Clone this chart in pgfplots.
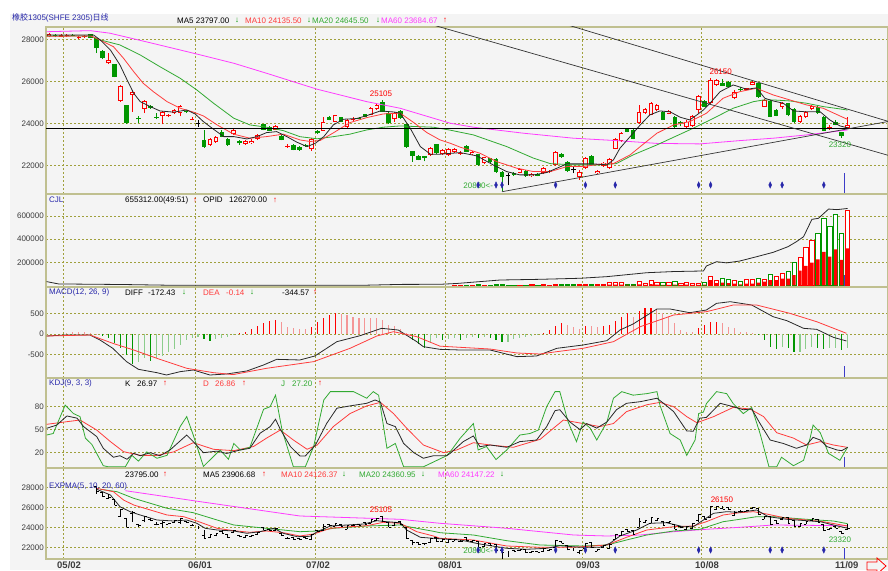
\documentclass[border=0pt]{standalone}
\usepackage{fontspec}
\setmainfont{Liberation Sans}
\newfontfamily\cjk{Noto Sans CJK SC}
\usepackage{pgfplots}
\pgfplotsset{compat=1.18}
\usepackage{pgfplotstable}
\definecolor{bg}{RGB}{244,244,244}
\definecolor{brd}{RGB}{192,192,144}
\definecolor{grd}{RGB}{160,160,60}
\definecolor{tk}{RGB}{60,60,60}
\definecolor{cR}{RGB}{255,0,0}
\definecolor{cRl}{RGB}{244,150,150}
\definecolor{cG}{RGB}{0,150,0}
\definecolor{cGl}{RGB}{140,205,140}
\definecolor{mR}{RGB}{255,60,60}
\definecolor{mG}{RGB}{50,170,50}
\definecolor{mM}{RGB}{255,60,255}
\definecolor{mK}{RGB}{40,40,40}
\definecolor{lb}{RGB}{40,40,170}
\definecolor{mk}{RGB}{60,60,200}
\newcommand\hf{\fontsize{8}{9.6}\selectfont}
\pgfplotsset{
  panel/.style={
    scale only axis, width=842pt, xmin=-8.51, xmax=132.77, anchor=south west,
    axis line style={draw=brd, line width=1.4pt},
    xtick={-5.6,16.5,36.6,58.5,81.5,101.5}, xticklabels={{},{},{},{},{},{}},
    xmajorgrids, ymajorgrids,
    major grid style={draw=grd, line width=0.7pt, dash pattern=on 2pt off 2pt},
    major tick length=0pt, tick style={draw=none},
    yticklabel style={font=\hf, text=tk, inner sep=0pt, xshift=-2pt},
    scaled y ticks=false,
  },
  cdl/.style 2 args={draw=none, mark=none, forget plot, error bars/y dir=plus, error bars/y explicit,
    error bars/error mark=none, error bars/error bar style={draw=#1, line width=#2}},
  xtk/.style 2 args={draw=none, mark=none, forget plot, error bars/x dir=#1, error bars/x explicit,
    error bars/error mark=none, error bars/error bar style={draw=#2, line width=0.7pt}},
}
\pgfplotstableread{
k o h l c
-8 28150 28300 28100 28250
-6 28130 28260 28100 28220
-5 28150 28240 28120 28210
-3 28050 28150 28000 28110
-2 28100 28200 28080 28160
2 26870 27345 26850 27030
4 25080 25850 25050 25806
6 25363 25600 24570 25492
8 24699 25110 24495 25093
11 24366 24580 23970 24542
12 24340 24450 24300 24390
13 24494 24700 24450 24650
14 24494 24900 24350 24855
16 24190 24300 24150 24240
19 22989 23330 22950 23288
20 23146 23420 23100 23383
23 23497 23740 23450 23701
25 23036 23230 23000 23193
26 23080 23250 23050 23180
27 23259 23500 23220 23464
30 23701 23950 23680 23891
32 22880 23050 22860 22930
36 22800 23300 22720 23273
38 23668 24300 23650 24096
40 24100 24420 24080 24400
42 23830 24200 23800 24176
43 24160 24300 24140 24240
46 24414 24780 24400 24760
47 24685 24950 24660 24890
50 24200 24550 24100 24500
56 22514 22900 22450 22860
58 22560 22800 22500 22750
59 22514 22850 22450 22800
60 22640 22850 22600 22800
61 22560 22680 22530 22620
63 22547 22700 22500 22670
65 22120 22430 22080 22405
71 21673 21870 21640 21835
73 21500 21650 21460 21600
75 21640 21920 21600 21880
76 21710 21800 21650 21770
77 22040 22700 22000 22670
81 21455 21780 21330 21720
82 21880 22420 21850 22385
84 21645 21800 21620 21754
85 21990 22180 21960 22150
86 21880 22350 21850 22324
87 22800 23300 22780 23273
88 23193 23580 23150 23545
91 24020 24889 24000 24570
92 24494 24750 24470 24700
93 24414 25050 24400 24970
94 24650 24950 24620 24900
96 24461 24650 24440 24604
99 23830 24150 23800 24100
100 23891 24400 23850 24366
101 24651 25350 24500 25316
103 24970 26150 24950 26076
104 25839 26100 25800 26076
107 25207 25600 25150 25520
109 25620 25700 25580 25670
110 25850 26050 25820 26000
112 24808 25150 24780 25126
115 24800 25050 24700 25000
118 24096 24400 24050 24366
119 24305 24620 24280 24570
120 24700 24900 24650 24858
123 23750 23950 23720 23860
126 23780 24305 23760 23940
}\upc
\pgfplotstableread{
k o h l c
-7 28200 28250 28100 28150
-4 28230 28260 28150 28180
-1 28250 28280 28050 28085
0 28050 28080 27350 27580
1 27470 27500 27050 27110
3 26836 26850 26200 26233
5 24889 24900 24000 24020
7 24260 24366 24020 24200
9 24841 24900 24700 24732
10 24330 24500 24200 24280
15 24620 24650 24500 24540
18 23226 23701 22850 22880
21 23620 23700 23350 23383
22 23259 23300 22950 22989
24 23160 23200 23000 23060
28 23972 24000 23680 23701
29 23830 23870 23650 23668
31 23416 23450 23200 23226
33 22989 23020 22730 22750
34 22900 22940 22720 22750
35 22990 23010 22900 22920
37 23650 23700 23500 23560
39 24305 24350 24150 24176
41 24300 24330 24080 24100
44 24290 24320 24200 24220
45 24460 24480 24300 24330
48 25045 25105 24550 24570
49 24523 24560 24000 24020
51 24600 24650 24230 24256
52 23986 24000 22850 22880
53 22704 22720 22196 22480
54 22480 22500 22250 22276
55 22440 22470 22200 22360
57 23022 23050 22560 22600
62 22955 22990 22640 22670
64 22547 22580 22000 22040
66 22357 22380 22140 22167
67 22324 22350 21650 21692
68 21720 21750 20800 21455
70 21650 21700 21520 21560
72 21750 21780 21470 21500
74 21600 21640 21490 21520
78 22547 22600 22380 22405
79 22167 22200 21700 21754
83 22480 22510 22000 22040
89 23750 23800 23580 23600
90 23700 23750 23250 23270
95 24570 24600 24150 24176
97 24334 24360 23800 23830
98 24096 24120 23880 24040
102 25079 25100 24780 24808
105 25920 26100 25780 25800
106 25967 26050 25730 25758
108 25640 25760 25560 25590
111 25920 25950 25230 25255
113 25079 25100 24300 24333
114 24650 24700 24340 24370
116 24970 25000 24350 24414
117 24700 24730 24050 24096
121 24800 24830 24450 24500
122 24334 24360 23640 23668
124 24096 24150 23920 23939
125 23590 23620 23320 23432
}\dnc
\pgfplotstableread{
k o h l c
17 24000 24150 23850 24040
69 21500 21650 21060 21540
80 21780 21950 21650 21820
}\djc
\begin{document}
\begin{tikzpicture}
\path[use as bounding box] (0pt,0pt) rectangle (888pt,570pt);
\fill[bg] (10pt,0pt) rectangle (888pt,556pt);
% ================= PANEL 1: candles =================
\begin{axis}[panel, at={(46pt,376pt)}, height=167pt, ymin=20655, ymax=28594,
  ytick={22000,24000,26000,28000}, yticklabels={22000,24000,26000,28000}]
\addplot[cdl={cR}{0.9pt}] table[x=k, y=l, y error expr=\thisrow{h}-\thisrow{l}] {\upc};
\addplot[cdl={cG}{0.9pt}] table[x=k, y=l, y error expr=\thisrow{h}-\thisrow{l}] {\dnc};
\addplot[cdl={black}{0.9pt}] table[x=k, y=l, y error expr=\thisrow{h}-\thisrow{l}] {\djc};
\addplot[cdl={cR}{4.6pt}] table[x=k, y=o, y error expr={max(\thisrow{c}-\thisrow{o},45)}] {\upc};
\addplot[cdl={bg}{2.8pt}] table[x=k, y expr=\thisrow{o}+45, y error expr={max(\thisrow{c}-\thisrow{o}-90,0)}] {\upc};
\addplot[cdl={cG}{4.6pt}] table[x=k, y=c, y error expr={max(\thisrow{o}-\thisrow{c},45)}] {\dnc};
\addplot[cdl={black}{4.6pt}] table[x=k, y=o, y error expr={45}] {\djc};
% MA60
\addplot[mM, line width=0.8pt] coordinates {(-8.4,28370) (-1.1,28420) (2.2,28300) (8.9,27850) (16.2,27350) (23.0,26870) (28.5,26394) (37.0,25634) (45.3,25045) (50.9,24732) (56.5,24257) (59.3,24020) (63.2,23830) (71.6,23545) (80.0,23307) (87.2,23193) (94.0,23060) (101.2,23036) (107.9,23193) (113.5,23307) (119.1,23464) (126,23700)};
% MA20
\addplot[mG, line width=0.8pt] coordinates {(-8.4,28160) (-1,28170) (0.6,27980) (3.9,27740) (7.3,27264) (10.6,26708) (14.0,26157) (16.8,25600) (19.6,24970) (23.0,24257) (25.7,23939) (28.5,23830) (31.3,23668) (34.1,23380) (37.0,23280) (39.7,23380) (42.5,23500) (45.3,23700) (48.1,23830) (50.9,23890) (53.7,23860) (56.5,23830) (59.3,23690) (63.2,23464) (68.8,22908) (73.3,22357) (76.1,22100) (80.0,22040) (84.4,22040) (87.2,22100) (90.0,22514) (94.0,22989) (96.8,23354) (100.1,23782) (103.5,24257) (106.8,24732) (110.2,25045) (111.9,25126) (113.5,25126) (116.3,25079) (119.1,24970) (121.9,24810) (124.7,24700) (126,24645)};
% MA10
\addplot[mR, line width=0.8pt] coordinates {(-8.4,28150) (-1,28170) (0.5,27980) (2.8,27660) (4.5,27107) (6.2,26472) (7.8,25920) (9.5,25520) (11.8,25045) (14.0,24732) (16.2,24550) (17.9,24366) (20.2,23939) (23.0,23497) (25.7,23307) (28.5,23383) (31.3,23500) (34.1,23226) (35.8,23150) (37.5,23200) (39.7,23560) (42.5,24050) (45.3,24286) (48.1,24461) (50.9,24500) (53.2,24050) (55.4,23573) (57.6,23226) (59.3,23069) (61.0,22880) (64.3,22595) (67.1,22196) (70.5,21880) (73.3,21720) (76.1,21720) (78.9,21958) (81.6,21958) (84.4,22070) (86.7,22100) (89.5,22514) (91.2,22908) (94.0,23545) (96.8,23939) (99.5,24096) (102.3,24494) (105.1,25207) (107.9,25520) (110.7,25680) (113.5,25364) (116.3,25126) (119.1,24889) (121.9,24730) (124.7,24366) (126,24200)};
% MA5
\addplot[mK, line width=0.8pt] coordinates {(-8.4,28210) (-0.5,28210) (0.6,27976) (2.3,27500) (3.9,26790) (5.1,26076) (6.2,25444) (7.3,25045) (9.0,24808) (10.6,24604) (12.9,24546) (15.1,24650) (16.5,24461) (17.9,24096) (19.6,23734) (21.3,23383) (23.0,23383) (25.2,23273) (26.9,23383) (28.5,23573) (30.2,23620) (31.9,23383) (33.6,23116) (35.3,22908) (36.7,23069) (38.1,23383) (39.7,23939) (41.4,24209) (43.6,24241) (45.3,24380) (47.6,24604) (49.8,24554) (50.9,24500) (52.6,23782) (54.3,22908) (56.0,22547) (57.6,22547) (61.0,22623) (63.8,22466) (66.5,22040) (68.8,21720) (71.0,21563) (73.3,21563) (75.5,21674) (77.2,21880) (78.9,22086) (81.1,22086) (83.3,22086) (85.6,22040) (86.7,22276) (87.8,22832) (89.5,23383) (91.2,23939) (92.8,24414) (94.5,24604) (96.2,24560) (97.9,24304) (99.5,24176) (100.7,24414) (101.8,24651) (102.9,24970) (104.6,25520) (106.8,25839) (109.1,25633) (110.7,25700) (112.1,25207) (113.5,25079) (115.2,24970) (116.9,24604) (119.1,24560) (121.4,24560) (123.0,24176) (124.7,23891) (126,23800)};
% trend lines
\addplot[black, line width=0.7pt] coordinates {(-9,23790) (134,23790)};
\addplot[black!80, line width=0.7pt] coordinates {(55,28805) (133,22477)};
\addplot[black!80, line width=0.7pt] coordinates {(78,28778) (133,24091)};
\addplot[black!80, line width=0.7pt] coordinates {(68.0,20764) (133,24112)};
% signals
\addplot[only marks, mark=diamond*, mark size=3.2pt, mark options={fill=lb, draw=lb, xscale=0.6}] coordinates {(64,21083) (67,21083) (68,21083) (77,21083) (82,21083) (87,21083) (101,21083) (103,21083) (113,21083) (115,21083) (122,21083)};
\addplot[mk, line width=1pt] coordinates {(125.4,20655) (125.4,21653)};
\node[text=cR, font=\hf] at (axis cs:47.7,25442) {25105};
\node[text=cR, font=\hf] at (axis cs:104.7,26469) {26150};
\node[text=mG, font=\hf, anchor=west, inner sep=0pt] at (axis cs:61.5,21035) {20800<-};
\node[text=mG, font=\hf] at (axis cs:124.7,23018) {23320};
\end{axis}
% ================= PANEL 2: volume =================
\begin{axis}[panel, at={(46pt,283pt)}, height=93pt, ymin=-13400, ymax=790000,
  ytick={200000,400000,600000}, yticklabels={200000,400000,600000}]
\addplot[ybar, bar width=4.2pt, bar shift=0pt, draw=cR, fill=white, line width=0.7pt] coordinates {(60,4000) (61,3000) (63,3000) (65,4000) (71,4000) (73,6000) (75,8000) (76,5000) (77,12000) (81,7000) (82,12000) (84,6000) (85,9000) (86,24000) (87,24000) (88,24000) (91,33000) (92,20000) (93,47000) (94,27000) (96,24000) (98,15000) (99,27000) (100,20000) (101,20000) (103,76000) (104,40000) (107,45000) (109,50000) (110,50000) (112,53000) (114,76000) (115,105000) (118,243000) (119,329000) (120,392000) (126,645000)};
\addplot[ybar, bar width=4.2pt, bar shift=0pt, draw=cG, fill=white, line width=0.7pt] coordinates {(62,5000) (64,6000) (66,3000) (67,8000) (68,9000) (69,5000) (70,4000) (72,5000) (74,4000) (78,7000) (79,9000) (80,6000) (83,10000) (89,12000) (90,9000) (95,24000) (97,33000) (102,30000) (105,62000) (106,56000) (108,33000) (111,62000) (113,96000) (116,119000) (117,197000) (121,450000) (122,579000) (123,507000) (124,616000) (125,450000)};
\addplot[ybar, bar width=3.4pt, bar shift=0pt, draw=none, fill=cR] coordinates {(86,8000) (87,8000) (88,8000) (89,4000) (90,3000) (91,10000) (92,6000) (93,12000) (94,8000) (95,6000) (96,6000) (97,8000) (98,5000) (99,8000) (100,5000) (101,6000) (102,8000) (103,45000) (104,20000) (105,25000) (106,20000) (107,15000) (108,10000) (109,15000) (110,15000) (111,25000) (112,33000) (113,45000) (114,45000) (115,60000) (116,60000) (117,90000) (118,128000) (119,168000) (120,197000) (121,226000) (122,291000) (123,248000) (124,312000) (125,220000) (126,321000)};
\addplot[mK, line width=0.8pt] coordinates {(-8.4,33000) (-6.4,13000) (4.5,8000) (12,2000) (45,2000) (51,9000) (57.6,10000) (60.4,17000) (67.7,47000) (74.4,53000) (81.1,62000) (85.6,76000) (92.3,110000) (96.8,120000) (101.8,125000) (102.3,168000) (104.0,205000) (105.7,195000) (107.9,211000) (110.7,248000) (113.5,286000) (116.0,335000) (117.4,378000) (118.6,421000) (120.0,571000) (121.1,580000) (122.8,660000) (124.2,655000) (126,665000)};
\addplot[mk, line width=1pt] coordinates {(125.4,-13400) (125.4,90300)};
\end{axis}
% ================= PANEL 3: MACD =================
\begin{axis}[panel, at={(46pt,192pt)}, height=91pt, ymin=-1084, ymax=1158,
  ytick={-500,0,500}, yticklabels={-500,0,500}]
\addplot[ycomb, cRl, line width=1.1pt] coordinates {(-5,30) (-4,45) (-3,50) (-2,40) (-1,30) (0,10) (31,287) (32,180) (33,140) (34,115) (35,115) (41,490) (42,468) (43,427) (44,402) (45,402) (46,386) (47,386) (48,345) (49,222) (50,205) (51,115) (52,16) (79,222) (80,180) (81,115) (83,197) (84,180) (90,427) (94,607) (95,525) (96,427) (97,263) (98,98) (99,57) (100,57) (105,263) (106,180) (107,140) (108,57) (109,41) (110,16)};
\addplot[ycomb, cR, line width=1.1pt] coordinates {(24,33) (25,57) (26,115) (27,205) (28,279) (29,328) (30,345) (36,180) (37,304) (38,386) (39,468) (40,509) (75,33) (76,98) (77,205) (78,279) (82,197) (85,197) (86,222) (87,328) (88,427) (89,509) (91,566) (92,648) (93,648) (101,140) (102,222) (103,304) (104,304)};
\addplot[ycomb, cGl, line width=1.1pt] coordinates {(7,-681) (8,-600) (10,-600) (11,-542) (12,-452) (13,-370) (14,-271) (15,-148) (16,-107) (17,-82) (20,-131) (21,-107) (22,-66) (23,-25) (56,-230) (57,-107) (59,-130) (60,-107) (62,-107) (63,-82) (65,-66) (69,-189) (70,-131) (71,-107) (72,-66) (73,-49) (74,-25) (115,-312) (118,-435) (119,-378) (120,-312) (123,-353) (124,-353) (126,-345)};
\addplot[ycomb, cG, line width=1.1pt] coordinates {(1,-40) (2,-107) (3,-230) (4,-353) (5,-517) (6,-739) (9,-657) (18,-131) (19,-172) (53,-148) (54,-246) (55,-337) (58,-148) (61,-148) (64,-107) (66,-107) (67,-148) (68,-189) (111,-25) (112,-148) (113,-312) (114,-378) (116,-353) (117,-435) (121,-353) (122,-378) (125,-394)};
% DIFF
\addplot[mK, line width=0.8pt] coordinates {(-8.4,-49) (-5.3,-25) (-1.1,-25) (0.55,-148) (2.7,-353) (5.0,-681) (7.0,-870) (10.1,-953) (11.7,-1010) (14.0,-928) (16.2,-887) (19.0,-1010) (21.8,-985) (25.2,-911) (28.0,-763) (30.2,-624) (34.1,-640) (36.6,-542) (40.3,-189) (44.2,-41) (47.8,140) (50.6,98) (53.7,-189) (54.8,-312) (57.6,-378) (61,-394) (66.0,-394) (70.5,-558) (73.8,-542) (77.2,-353) (81.6,-271) (85.6,-164) (87.8,98) (90.0,246) (94.0,616) (96.2,616) (99.5,525) (102.3,591) (104.0,755) (106.3,796) (109.9,714) (113.5,426) (115.8,328) (118.6,140) (120.8,115) (123.6,-82) (125.8,-172)};
% DEA
\addplot[mR, line width=0.8pt] coordinates {(-8.4,-49) (-1.1,-25) (2.7,-230) (6.2,-394) (10.1,-599) (15.1,-845) (19.6,-953) (22.9,-1000) (28.5,-845) (36.4,-681) (42.5,-353) (47.0,-49) (49.8,57) (53.7,-66) (57.6,-300) (66.0,-370) (70.5,-468) (74.4,-493) (77.2,-435) (81.6,-353) (86.7,-189) (91.2,180) (96.8,468) (102.3,550) (106.8,714) (110.7,714) (116.3,509) (120.8,303) (125.8,17)};
\addplot[mk, line width=1pt] coordinates {(125.4,-1084) (125.4,-788)};
\end{axis}
% ================= PANEL 4: KDJ =================
\begin{axis}[panel, at={(46pt,102pt)}, height=90pt, ymin=0, ymax=117.4,
  ytick={20,50,80}, yticklabels={20,50,80}]
\addplot[mR, line width=0.8pt] coordinates {(-8.4,57) (-5.0,60.4) (-2.8,62.6) (0,49.5) (2.3,34.4) (4.5,21.3) (7.3,16.5) (10.1,16.5) (12.9,21) (16.2,33) (19.6,24.4) (23.0,22.6) (26.3,28) (28.5,39) (30.8,49.5) (33.0,36.5) (35.3,24.4) (37.0,30) (39.7,54) (42.5,71) (45.3,81) (47.6,85.6) (49.8,71) (52.0,52) (54.8,30) (58.2,20) (60.4,23.5) (63.2,33) (66.0,30) (69.9,27) (74.4,37.4) (78.3,62.6) (81.6,58) (84.4,54) (86.7,58) (88.9,73.6) (92.3,82.5) (94.5,85.6) (96.8,80) (99.0,67) (100.7,59) (103.5,67) (106.8,79) (109.6,77) (111.9,67) (114.1,46) (116.9,39) (119.1,30) (121.4,34.4) (123.6,30) (126,26.86)};
\addplot[mG, line width=0.8pt] coordinates {(-8.4,43) (-7.3,45) (-5.3,82) (-3.9,71) (-2.8,67) (-1.9,39) (-0.8,30.5) (1.1,3) (2.0,1.5) (4.8,1.5) (5.9,16.5) (7.0,9) (8.4,21) (10.1,12.7) (11.8,16.5) (14.0,54) (15.1,67) (16.2,43) (17.9,2) (20.7,23.5) (22.1,11.4) (23.0,32) (24.1,23.5) (25.7,27) (28.0,76.6) (29.1,80) (30.0,95) (31.1,49.5) (33.0,1.5) (35.0,1.5) (36.4,28) (38.1,88.7) (39.2,99.6) (43.1,99.6) (45.3,91) (46.4,99.6) (47.3,95) (48.7,25.7) (50.1,32) (51.5,1.5) (54.8,1.5) (58.7,16) (59.3,21) (61.0,39) (63.2,58) (64.0,23.5) (65.4,28) (67.0,11) (68.8,23.5) (71.0,43) (72.7,45) (74.1,49.5) (75.5,80) (76.9,99.6) (77.7,99.6) (79.1,60) (80.5,34.4) (81.6,60) (82.8,52) (83.9,36.5) (85.6,60) (86.7,91) (88.1,99.6) (90.0,95) (92.3,97) (94.0,99.6) (94.5,82) (96.2,45) (97.9,36.5) (99.0,16.5) (100.4,36.5) (101.0,71) (101.8,73) (102.3,84) (104.0,99.6) (105.7,97) (106.8,84) (108.5,71) (109.9,79) (111.3,45) (112.8,1.5) (114.1,1.5) (114.9,14) (116.9,3) (118.6,10) (119.7,39) (120.2,56) (121.4,46) (122.8,19) (124.7,10) (126,27.2)};
\addplot[mK, line width=0.8pt] coordinates {(-8.4,51.8) (-6.7,56) (-5.0,67.9) (-3.3,65) (-2.2,54) (0,41) (1.1,25.7) (2.8,14) (3.9,16) (5.1,11.4) (6.2,19.2) (7.3,16) (9.0,20) (10.6,16) (12.3,23.5) (15.1,43) (16.2,34.4) (17.9,20) (20.2,22) (21.8,19) (24.1,23.5) (25.7,25.7) (27.4,45.3) (29.1,54) (30.0,63.6) (30.8,50.5) (32.5,28) (34.1,15.7) (35.0,15.7) (36.7,30) (38.6,58.3) (40.3,78) (42.5,81) (45.3,84.4) (46.7,88.7) (47.6,86) (48.7,58) (50.1,54) (51.5,32) (53.2,20) (54.8,12.7) (56.5,16) (58.7,16) (59.3,19) (61.5,34.4) (63.2,41.8) (64.3,27.8) (66.0,30) (68.8,27) (71.0,34.4) (73.8,36.5) (75.5,54) (76.9,74.8) (77.7,76) (79.4,60) (81.1,50) (82.2,58) (83.9,52) (85.6,60) (87.2,76) (88.9,84.4) (91.2,86.5) (94.0,91) (95.1,84.4) (96.8,73.6) (99.0,48.3) (100.1,48) (101.2,65) (102.3,66) (104.6,84.4) (106.8,80) (108.5,76) (109.9,77) (111.3,58) (113.0,36.5) (115.2,32) (117.4,25.7) (119.1,30) (120.2,40) (121.4,36.5) (122.5,28) (124.2,23.5) (125.0,22.6) (126,26.97)};
\addplot[mk, line width=1pt] coordinates {(125.4,0) (125.4,14.4)};
\end{axis}
% ================= PANEL 5: EXPMA =================
\begin{axis}[panel, at={(46pt,11pt)}, height=91pt, ymin=20830, ymax=29930,
  ytick={22000,24000,26000,28000}, yticklabels={22000,24000,26000,28000}]
\addplot[mM, line width=0.8pt] coordinates {(4.8,27660) (17.4,26560) (34.1,25130) (50.9,24800) (57.6,24400) (68.8,23900) (80.0,23230) (85.6,23130) (91.2,23230) (96.8,23560) (102.3,23800) (107.9,24000) (113.5,24230) (119.1,24200) (126,24147)};
\addplot[mG, line width=0.8pt] coordinates {(0.6,27800) (3.4,27560) (6.2,26900) (9.0,26400) (11.8,25900) (16.2,25460) (20.2,24730) (23.0,24230) (28.5,23900) (34.1,23560) (37.0,23630) (39.7,23900) (45.3,24130) (50.9,24230) (53.7,23900) (56.5,23600) (57.6,23460) (63.2,23230) (68.8,22660) (74.4,22230) (81.6,22130) (85.6,22230) (88.9,22730) (92.3,23230) (96.8,23630) (101.2,23800) (105.1,24560) (107.9,24800) (110.7,25060) (113.5,25060) (119.1,24800) (123.6,24630) (126,24360)};
\addplot[mR, line width=0.8pt] coordinates {(0,27900) (2.8,27560) (4.5,26730) (6.2,26230) (9.0,25730) (11.8,25230) (14.6,25060) (16.8,24630) (20.2,23900) (23.0,23660) (25.7,23500) (28.5,23630) (31.3,23460) (34.1,23130) (36.4,23330) (39.2,23900) (42.5,24060) (45.3,24160) (48.1,24500) (50.9,24400) (53.7,23560) (56.5,23130) (57.6,22900) (63.2,22730) (68.8,22130) (74.4,22000) (80.0,22000) (85.6,22230) (88.9,23000) (92.3,23730) (96.8,24060) (100.1,24130) (102.3,24560) (105.1,25230) (107.9,25460) (110.2,25560) (112.4,25330) (115.8,24900) (119.1,24730) (121.9,24560) (126,24126)};
\addplot[mK, line width=0.8pt] coordinates {(0,27800) (2.3,27230) (3.9,26060) (5.6,25560) (7.3,25230) (10.1,24730) (12.9,24630) (15.1,24730) (16.8,24400) (18.2,23900) (20.2,23730) (23.0,23630) (25.2,23400) (27.4,23560) (29.7,23900) (31.3,23400) (33.6,23060) (35.8,23100) (37.0,23560) (39.2,24130) (42.0,24230) (44.8,24330) (47.0,24660) (48.7,24560) (50.9,24460) (52.0,23730) (54.3,23000) (56.5,22900) (61.0,22730) (64.3,22330) (68.8,21900) (72.1,21800) (75.5,21900) (77.7,22160) (81.1,22000) (84.4,22000) (86.1,22400) (87.8,23130) (90.6,23730) (92.8,24400) (95.6,24460) (98.4,24060) (100.1,24060) (101.8,24730) (103.5,25400) (105.7,25560) (107.9,25500) (110.7,25730) (112.7,25060) (115.8,24800) (119.1,24660) (121.4,24560) (123.6,24230) (126,23906)};
\addplot[cdl={black}{0.7pt}, restrict x to domain=0:130] table[x=k, y=l, y error expr=\thisrow{h}-\thisrow{l}] {\upc};
\addplot[cdl={black}{0.7pt}, restrict x to domain=0:130] table[x=k, y=l, y error expr=\thisrow{h}-\thisrow{l}] {\dnc};
\addplot[cdl={black}{0.7pt}, restrict x to domain=0:130] table[x=k, y=l, y error expr=\thisrow{h}-\thisrow{l}] {\djc};
\addplot[xtk={plus}{black}, restrict x to domain=0:130] table[x=k, y=c, x error expr={0.4}] {\upc};
\addplot[xtk={plus}{black}, restrict x to domain=0:130] table[x=k, y=c, x error expr={0.4}] {\dnc};
\addplot[xtk={minus}{black}, restrict x to domain=0:130] table[x=k, y=o, x error expr={0.4}] {\upc};
\addplot[xtk={minus}{black}, restrict x to domain=0:130] table[x=k, y=o, x error expr={0.4}] {\dnc};
\addplot[only marks, mark=diamond*, mark size=3.2pt, mark options={fill=lb, draw=lb, xscale=0.6}] coordinates {(64,21730) (67,21730) (68,21730) (77,21730) (82,21730) (87,21730) (101,21730) (103,21730) (113,21730) (115,21730) (122,21730)};
\addplot[mk, line width=1pt] coordinates {(125.4,20830) (125.4,21930)};
\node[text=cR, font=\hf] at (axis cs:47.7,25730) {25105};
\node[text=cR, font=\hf] at (axis cs:104.9,26800) {26150};
\node[text=mG, font=\hf, anchor=west, inner sep=0pt] at (axis cs:61.5,21660) {20800<-};
\node[text=mG, font=\hf] at (axis cs:124.7,22800) {23320};
\end{axis}
% ================= headers =================
\tikzset{h/.style={anchor=west, inner sep=0pt, font=\hf}}
\node[h, text=lb] at (12pt,552.5pt) {{\cjk 橡胶}1305(SHFE 2305){\cjk 日线}};
\node[h] at (177pt,549.3pt) {MA5 23797.00};
\node[h, text=cG] at (235pt,549.3pt) {↓};
\node[h, text=mR] at (245pt,549.3pt) {MA10 24135.50};
\node[h, text=cG] at (307pt,549.3pt) {↓};
\node[h, text=mG] at (312pt,549.3pt) {MA20 24645.50};
\node[h, text=cG] at (376pt,549.3pt) {↓};
\node[h, text=mM] at (381pt,549.3pt) {MA60 23684.67};
\node[h, text=cR] at (443pt,549.3pt) {↑};
% panel 2
\node[h, text=lb] at (49pt,370pt) {CJL};
\node[h] at (125pt,370pt) {655312.00(49:51)};
\node[h, text=cR] at (193pt,370pt) {↑};
\node[h] at (203pt,370pt) {OPID};
\node[h] at (229pt,370pt) {126270.00};
\node[h, text=cR] at (273pt,370pt) {↑};
% panel 3
\node[h, text=lb] at (49pt,277.3pt) {MACD(12, 26, 9)};
\node[h] at (125pt,277.3pt) {DIFF};
\node[h] at (148pt,277.3pt) {-172.43};
\node[h, text=cG] at (182pt,277.3pt) {↓};
\node[h, text=mR] at (203pt,277.3pt) {DEA};
\node[h, text=mR] at (226pt,277.3pt) {-0.14};
\node[h, text=cG] at (250pt,277.3pt) {↓};
\node[h] at (282pt,277.3pt) {-344.57};
\node[h, text=cR] at (313pt,277.3pt) {↑};
% panel 4
\node[h, text=lb] at (49pt,186.7pt) {KDJ(9, 3, 3)};
\node[h] at (125pt,186.7pt) {K};
\node[h] at (137pt,186.7pt) {26.97};
\node[h, text=cR] at (163pt,186.7pt) {↑};
\node[h, text=mR] at (203pt,186.7pt) {D};
\node[h, text=mR] at (215pt,186.7pt) {26.86};
\node[h, text=cR] at (242pt,186.7pt) {↑};
\node[h, text=mG] at (281pt,186.7pt) {J};
\node[h, text=mG] at (292pt,186.7pt) {27.20};
\node[h, text=cR] at (318pt,186.7pt) {↑};
% panel 5
\node[h] at (125pt,95.7pt) {23795.00};
\node[h, text=cR] at (163pt,95.7pt) {↑};
\node[h] at (203pt,95.7pt) {MA5 23906.68};
\node[h, text=cR] at (262pt,95.7pt) {↑};
\node[h, text=mR] at (281pt,95.7pt) {MA10 24126.37};
\node[h, text=cG] at (342pt,95.7pt) {↓};
\node[h, text=mG] at (359pt,95.7pt) {MA20 24360.95};
\node[h, text=cG] at (421pt,95.7pt) {↓};
\node[h, text=mM] at (438pt,95.7pt) {MA60 24147.22};
\node[h, text=cG] at (500pt,95.7pt) {↓};
\node[h, text=lb] at (49pt,84pt) {EXPMA(5, 10, 20, 60)};
% dates
\tikzset{d/.style={anchor=west, inner sep=0pt, font=\fontsize{9.5}{11}\selectfont\bfseries, text=tk}}
\node[d] at (57pt,5pt) {05/02};
\node[d] at (188pt,5pt) {06/01};
\node[d] at (306pt,5pt) {07/02};
\node[d] at (438pt,5pt) {08/01};
\node[d] at (576pt,5pt) {09/03};
\node[d] at (695pt,5pt) {10/08};
\node[d] at (835pt,5pt) {11/09};
\draw[red, line width=0.8pt] (867pt,8pt) -- (877pt,8pt) -- (877pt,12pt) -- (886pt,4pt) -- (877pt,-4pt) -- (877pt,0pt) -- (867pt,0pt) -- cycle;
\end{tikzpicture}
\end{document}
